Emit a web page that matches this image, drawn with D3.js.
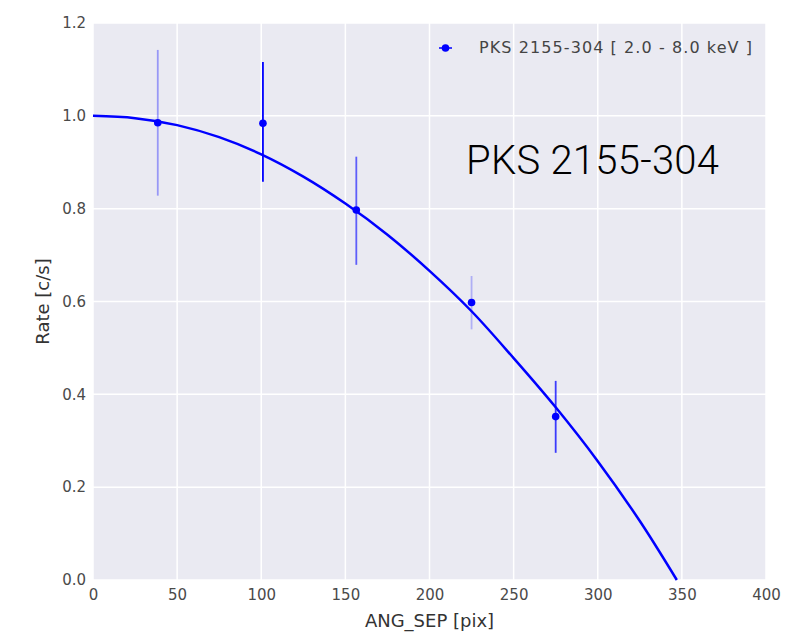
<!DOCTYPE html>
<html>
<head>
    <meta charset="utf-8">
    <title>PKS 2155-304 rate vs ANG_SEP</title>
    <style>
        body { margin: 0; background: #fff; }
    </style>
</head>
<body>
    <script src="https://cdnjs.cloudflare.com/ajax/libs/d3/7.9.0/d3.min.js"></script>
    <script>
        // measured points with error bars
        const angSep = [38.5, 101, 156.5, 225, 275];
        const rate = [0.985, 0.984, 0.797, 0.598, 0.352];
        const rateLow = [0.828, 0.858, 0.679, 0.540, 0.274];
        const rateHigh = [1.142, 1.116, 0.912, 0.655, 0.429];

        // model curve
        const fitX = [0, 25, 50, 75, 100, 125, 150, 175, 200, 225, 250, 275, 300, 325, 347];
        const fitY = [1.0, 0.995, 0.98, 0.954, 0.917, 0.869, 0.811, 0.744, 0.666, 0.579, 0.478, 0.372, 0.256, 0.127, 0.0];

        const xTicks = [0, 50, 100, 150, 200, 250, 300, 350, 400];
        const yTicks = [0.0, 0.2, 0.4, 0.6, 0.8, 1.0, 1.2];

        const legendLabel = "PKS 2155-304 [ 2.0 - 8.0 keV ]";
        const noteLabel = "PKS 2155-304";

        // error bars in the source are drawn with different transparency
        const barOpacity = [0.35, 1, 0.6, 0.25, 0.75];

        const width = 793;
        const height = 638;
        const margin = {top: 23, right: 27, bottom: 58, left: 93};
        const blue = "#0000ff";

        const svg = d3.select("body")
            .append("svg")
            .attr("width", width)
            .attr("height", height);

        const x = d3.scaleLinear()
            .domain([0, 400])
            .range([margin.left, width - margin.right]);

        const y = d3.scaleLinear()
            .domain([0, 1.2])
            .range([height - margin.bottom, margin.top]);

        svg.append("rect")
            .attr("x", x(0))
            .attr("y", y(1.2))
            .attr("width", x(400) - x(0))
            .attr("height", y(0) - y(1.2))
            .attr("fill", "#eaeaf2");

        // grid
        svg.append("g")
            .selectAll("line")
            .data(xTicks)
            .join("line")
            .attr("x1", d => x(d)).attr("x2", d => x(d))
            .attr("y1", y(0)).attr("y2", y(1.2))
            .attr("stroke", "#fff")
            .attr("stroke-width", 1.5);

        svg.append("g")
            .selectAll("line")
            .data(yTicks)
            .join("line")
            .attr("x1", x(0)).attr("x2", x(400))
            .attr("y1", d => y(d)).attr("y2", d => y(d))
            .attr("stroke", "#fff")
            .attr("stroke-width", 1.5);

        // axes (no domain line, no tick marks, like seaborn darkgrid)
        const xAxis = svg.append("g")
            .attr("transform", `translate(0,${y(0)})`)
            .call(d3.axisBottom(x).tickValues(xTicks).tickSize(0).tickPadding(9).tickFormat(d3.format("d")));
        xAxis.select(".domain").remove();

        const yAxis = svg.append("g")
            .attr("transform", `translate(${x(0)},0)`)
            .call(d3.axisLeft(y).tickValues(yTicks).tickSize(0).tickPadding(7).tickFormat(d3.format(".1f")));
        yAxis.select(".domain").remove();

        svg.selectAll(".tick text")
            .attr("fill", "#4a4a4a")
            .style("font-family", "DejaVu Sans, sans-serif")
            .style("font-size", "15px");

        svg.append("text")
            .attr("x", x(200))
            .attr("y", 627)
            .attr("text-anchor", "middle")
            .attr("fill", "#333")
            .style("font-family", "DejaVu Sans, sans-serif")
            .style("font-size", "18px")
            .text("ANG_SEP [pix]");

        svg.append("text")
            .attr("transform", `translate(49,${(y(0) + y(1.2)) / 2}) rotate(-90)`)
            .attr("text-anchor", "middle")
            .attr("fill", "#333")
            .style("font-family", "DejaVu Sans, sans-serif")
            .style("font-size", "18px")
            .text("Rate [c/s]");

        // model curve
        const line = d3.line()
            .x((d, i) => x(fitX[i]))
            .y(d => y(d))
            .curve(d3.curveCatmullRom);

        svg.append("path")
            .datum(fitY)
            .attr("d", line)
            .attr("fill", "none")
            .attr("stroke", blue)
            .attr("stroke-width", 2.5);

        // error bars + points
        const pts = svg.append("g")
            .selectAll("g")
            .data(angSep)
            .join("g");

        pts.append("line")
            .attr("x1", d => x(d)).attr("x2", d => x(d))
            .attr("y1", (d, i) => y(rateLow[i]))
            .attr("y2", (d, i) => y(rateHigh[i]))
            .attr("stroke", blue)
            .attr("stroke-opacity", (d, i) => barOpacity[i])
            .attr("stroke-width", 1.8);

        pts.append("circle")
            .attr("cx", d => x(d))
            .attr("cy", (d, i) => y(rate[i]))
            .attr("r", 3.8)
            .attr("fill", blue);

        // legend
        svg.append("line")
            .attr("x1", 439).attr("x2", 452)
            .attr("y1", 48).attr("y2", 48)
            .attr("stroke", blue)
            .attr("stroke-width", 1.5);
        svg.append("circle")
            .attr("cx", 445.5).attr("cy", 48)
            .attr("r", 3.8)
            .attr("fill", blue);
        svg.append("text")
            .attr("x", 479)
            .attr("y", 53)
            .attr("fill", "#444")
            .attr("textLength", 273)
            .style("font-family", "DejaVu Sans, sans-serif")
            .style("font-size", "16px")
            .text(legendLabel);

        // annotation
        svg.append("text")
            .attr("x", 466)
            .attr("y", 174)
            .attr("fill", "#000")
            .attr("textLength", 253)
            .style("font-family", "Helvetica Neue, Roboto, sans-serif")
            .style("font-weight", 300)
            .style("font-size", "40px")
            .text(noteLabel);
    </script>
</body>
</html>
